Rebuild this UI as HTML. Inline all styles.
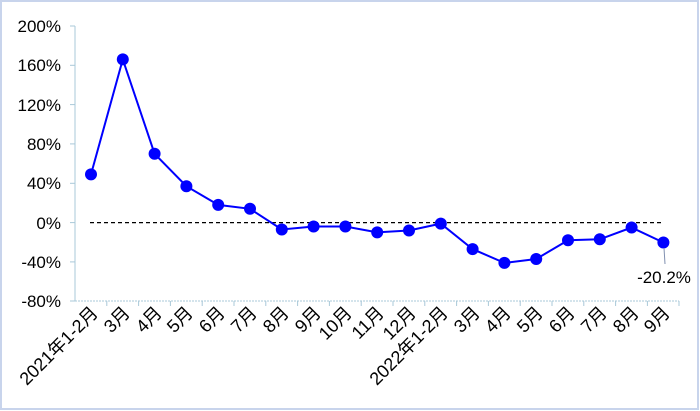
<!DOCTYPE html>
<html><head><meta charset="utf-8"><style>
html,body{margin:0;padding:0;background:#fff;}
svg{display:block;font-family:"Liberation Sans","Noto Sans CJK SC",sans-serif;}
</style></head><body>
<svg width="700" height="411" viewBox="0 0 700 411" xmlns="http://www.w3.org/2000/svg">
<rect x="1" y="1" width="697" height="408" fill="#fff" stroke="#c8d4ec" stroke-width="2"/>
<g font-size="17" fill="#000" text-anchor="end">
<text x="61" y="32">200%</text>
<text x="61" y="71">160%</text>
<text x="61" y="111">120%</text>
<text x="61" y="150">80%</text>
<text x="61" y="189">40%</text>
<text x="61" y="229">0%</text>
<text x="61" y="268">-40%</text>
<text x="61" y="307">-80%</text>
</g>
<g stroke="#a9c8d8" stroke-width="1">
<line x1="75" y1="26" x2="75" y2="301"/>
<line x1="70" y1="26" x2="75" y2="26"/>
<line x1="70" y1="65.3" x2="75" y2="65.3"/>
<line x1="70" y1="104.6" x2="75" y2="104.6"/>
<line x1="70" y1="143.9" x2="75" y2="143.9"/>
<line x1="70" y1="183.3" x2="75" y2="183.3"/>
<line x1="70" y1="222.6" x2="75" y2="222.6"/>
<line x1="70" y1="261.9" x2="75" y2="261.9"/>
<line x1="70" y1="301" x2="75" y2="301"/>
<line x1="75" y1="301" x2="679" y2="301" stroke-dasharray="2,1"/>
</g>
<line x1="90" y1="222.6" x2="663" y2="222.6" stroke="#000" stroke-width="1.3" stroke-dasharray="4,3"/>
<polyline fill="none" stroke="#0000ff" stroke-width="2" points="91,174.4 122.8,59.4 154.6,153.8 186.4,186.2 218.2,204.9 250,208.8 281.8,229.5 313.6,226.5 345.4,226.5 377.2,232.4 409,230.5 440.8,223.6 472.6,249.1 504.4,262.9 536.2,259 568,240.3 599.8,239.3 631.6,227.5 663.4,242.5"/>
<g fill="#0000ff">
<circle cx="91" cy="174.4" r="6"/><circle cx="122.8" cy="59.4" r="6"/><circle cx="154.6" cy="153.8" r="6"/><circle cx="186.4" cy="186.2" r="6"/><circle cx="218.2" cy="204.9" r="6"/><circle cx="250" cy="208.8" r="6"/><circle cx="281.8" cy="229.5" r="6"/><circle cx="313.6" cy="226.5" r="6"/><circle cx="345.4" cy="226.5" r="6"/><circle cx="377.2" cy="232.4" r="6"/><circle cx="409" cy="230.5" r="6"/><circle cx="440.8" cy="223.6" r="6"/><circle cx="472.6" cy="249.1" r="6"/><circle cx="504.4" cy="262.9" r="6"/><circle cx="536.2" cy="259" r="6"/><circle cx="568" cy="240.3" r="6"/><circle cx="599.8" cy="239.3" r="6"/><circle cx="631.6" cy="227.5" r="6"/><circle cx="663.4" cy="242.5" r="6"/>
</g>
<line x1="664" y1="248" x2="665" y2="264" stroke="#8090b0" stroke-width="1"/>
<text x="664" y="283" font-size="17" text-anchor="middle">-20.2%</text>
<g stroke="#a9c8d8">
<line x1="106.8" y1="301" x2="106.8" y2="306"/><line x1="138.6" y1="301" x2="138.6" y2="306"/><line x1="170.4" y1="301" x2="170.4" y2="306"/><line x1="202.2" y1="301" x2="202.2" y2="306"/><line x1="234" y1="301" x2="234" y2="306"/><line x1="265.8" y1="301" x2="265.8" y2="306"/><line x1="297.6" y1="301" x2="297.6" y2="306"/><line x1="329.4" y1="301" x2="329.4" y2="306"/><line x1="361.2" y1="301" x2="361.2" y2="306"/><line x1="393" y1="301" x2="393" y2="306"/><line x1="424.8" y1="301" x2="424.8" y2="306"/><line x1="456.6" y1="301" x2="456.6" y2="306"/><line x1="488.4" y1="301" x2="488.4" y2="306"/><line x1="520.2" y1="301" x2="520.2" y2="306"/><line x1="552" y1="301" x2="552" y2="306"/><line x1="583.8" y1="301" x2="583.8" y2="306"/><line x1="615.6" y1="301" x2="615.6" y2="306"/><line x1="647.4" y1="301" x2="647.4" y2="306"/><line x1="679" y1="301" x2="679" y2="306"/>
</g>
<g font-size="18" text-anchor="end">
<text transform="translate(99,314) rotate(-45)">2021年1-2月</text>
<text transform="translate(131,314) rotate(-45)">3月</text>
<text transform="translate(163,314) rotate(-45)">4月</text>
<text transform="translate(194,314) rotate(-45)">5月</text>
<text transform="translate(226,314) rotate(-45)">6月</text>
<text transform="translate(258,314) rotate(-45)">7月</text>
<text transform="translate(290,314) rotate(-45)">8月</text>
<text transform="translate(322,314) rotate(-45)">9月</text>
<text transform="translate(353,314) rotate(-45)">10月</text>
<text transform="translate(385,314) rotate(-45)">11月</text>
<text transform="translate(417,314) rotate(-45)">12月</text>
<text transform="translate(449,314) rotate(-45)">2022年1-2月</text>
<text transform="translate(481,314) rotate(-45)">3月</text>
<text transform="translate(512,314) rotate(-45)">4月</text>
<text transform="translate(544,314) rotate(-45)">5月</text>
<text transform="translate(576,314) rotate(-45)">6月</text>
<text transform="translate(608,314) rotate(-45)">7月</text>
<text transform="translate(640,314) rotate(-45)">8月</text>
<text transform="translate(671,314) rotate(-45)">9月</text>
</g>
</svg>
</body></html>
